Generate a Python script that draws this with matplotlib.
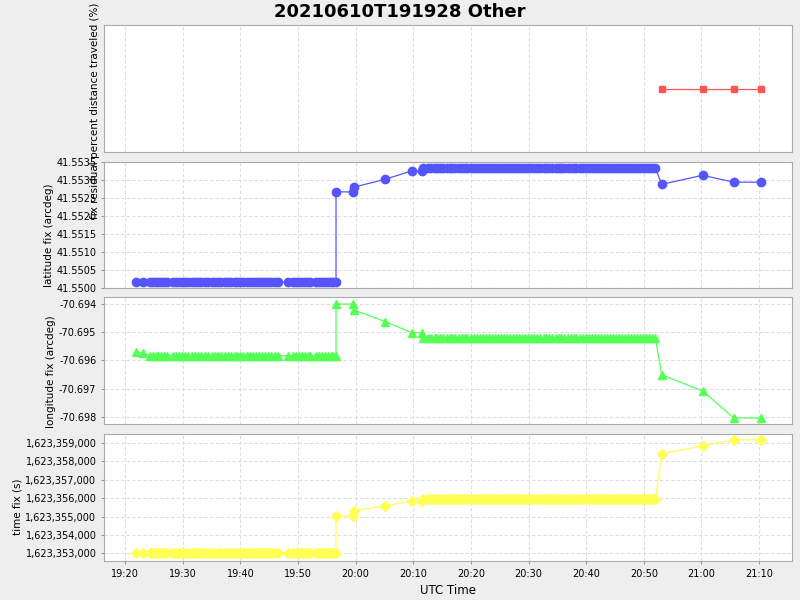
#!/usr/bin/env python3
import pandas as pd
import matplotlib
matplotlib.use("Agg")
import matplotlib.pyplot as plt
import matplotlib.dates as mdates
from matplotlib.ticker import FuncFormatter, MultipleLocator

START = pd.Timestamp("2021-06-10 19:20:00")

# minutes after 19:20 while the fix was stale
stale_min = [1.9, 3.1, 4.3, 4.8, 5.3, 5.8, 6.3, 6.8, 7.3, 8.3, 8.8, 9.4, 9.9, 10.4,
             11.0, 11.6, 12.1, 12.7, 13.2, 13.8, 14.4, 15.0, 15.6, 16.1, 16.7, 17.3,
             17.9, 18.4, 19.0, 19.5, 20.0, 20.5, 21.1, 21.7, 22.2, 22.8, 23.3, 23.8,
             24.3, 24.8, 25.4, 26.0, 26.6, 28.3, 29.2, 29.7, 30.2, 30.7, 31.2, 31.7,
             32.1, 33.2, 33.7, 34.2, 34.7, 35.2, 35.7, 36.1, 36.6]
stale_lat = 41.55016
stale_lon_first = [-70.69570, -70.69572]
stale_lon = -70.69583
stale_fix = 1623352990

# fix recovering
move_min = [36.6, 39.6, 39.7, 45.1, 49.7, 51.6, 51.7]
move_lat = [41.55267, 41.55267, 41.55280, 41.55302, 41.55325, 41.55325, 41.55333]
move_lon = [-70.69400, -70.69400, -70.69421, -70.69462, -70.69501, -70.69501, -70.69519]
move_fix = [1623355035, 1623355035, 1623355308, 1623355580, 1623355853, 1623355853, 1623355962]

# long stale period after recovery
dense_min = [52.6, 53.1, 53.7, 54.2, 54.7, 55.2, 55.8, 56.3, 56.8, 57.3, 57.9, 58.4,
             58.9, 59.4, 60.0, 60.5, 61.0, 61.5, 62.1, 62.6, 63.1, 63.6, 64.2, 64.7,
             65.2, 65.7, 66.3, 66.8, 67.3, 67.8, 68.4, 68.9, 69.4, 69.9, 70.5, 71.0,
             71.5, 72.0, 72.6, 73.1, 73.6, 74.1, 74.7, 75.2, 75.7, 76.2, 76.8, 77.3,
             77.8, 78.3, 78.9, 79.4, 79.9, 80.4, 81.0, 81.5, 82.0, 82.5, 83.1, 83.6,
             84.1, 84.6, 85.2, 85.7, 86.2, 86.7, 87.3, 87.8, 88.3, 88.8, 89.4, 89.9,
             90.4, 90.9, 91.5, 92.0]
dense_lat = 41.55333
dense_lon = -70.69519
dense_fix = 1623355962

# last few points
tail_min = [93.1, 100.2, 105.6, 110.3]
tail_lat = [41.55288, 41.55313, 41.55294, 41.55294]
tail_lon = [-70.69651, -70.69708, -70.69804, -70.69804]
tail_fix = [1623358420, 1623358855, 1623359180, 1623359180]
tail_pct = [100.0, 100.0, 100.0, 100.0]

BG = "#eeeeee"
EDGE = "#aaaaaa"
GRID = "#dddddd"


def to_time(mins):
    return START + pd.to_timedelta(pd.Series(mins, dtype=float), unit="min")


def main():
    n_stale = len(stale_min)
    n_dense = len(dense_min)
    all_min = stale_min + move_min + dense_min + tail_min
    lat = [stale_lat] * n_stale + move_lat + [dense_lat] * n_dense + tail_lat
    lon = stale_lon_first + [stale_lon] * (n_stale - 2) + move_lon + [dense_lon] * n_dense + tail_lon
    fix = [stale_fix] * n_stale + move_fix + [dense_fix] * n_dense + tail_fix
    t = to_time(all_min)
    t_tail = to_time(tail_min)

    plt.rcParams["font.family"] = "DejaVu Sans"
    fig = plt.figure(figsize=(8, 6), dpi=100, facecolor=BG)
    L, W = 0.13, 0.86
    rects = [(0.747, 0.211), (0.52, 0.21), (0.293, 0.212), (0.065, 0.212)]
    axes = [fig.add_axes([L, b, W, h]) for b, h in rects]
    ax_pct, ax_lat, ax_lon, ax_fix = axes

    ax_pct.plot(t_tail, tail_pct, color="#ff5555", marker="s", markersize=5, lw=0.9)
    ax_lat.plot(t, lat, color="#5555ff", marker="o", markersize=6, lw=0.9)
    ax_lon.plot(t, lon, color="#55ff55", marker="^", markersize=6, lw=0.9)
    ax_fix.plot(t, fix, color="#ffff55", marker="D", markersize=5, lw=0.9)

    x0 = START - pd.Timedelta(minutes=3.65)
    x1 = START + pd.Timedelta(minutes=115.7)
    for ax in axes:
        ax.set_facecolor("white")
        ax.set_xlim(x0, x1)
        for s in ax.spines.values():
            s.set_color(EDGE)
        ax.grid(True, color=GRID, linestyle=(0, (3, 2)), linewidth=0.8)
        ax.xaxis.set_major_locator(mdates.MinuteLocator(byminute=range(0, 60, 10)))
        ax.xaxis.set_major_formatter(mdates.DateFormatter("%H:%M"))
        ax.tick_params(direction="out", length=2, color="#999999", labelsize=7)
    for ax in axes[:3]:
        ax.tick_params(axis="x", labelbottom=False, length=0)

    ax_pct.set_ylim(99, 101)
    ax_pct.set_yticks([])
    ax_pct.set_ylabel("fix residual percent distance traveled (%)", fontsize=7.5)
    ax_pct.yaxis.set_label_coords(-0.006, 0.32)

    ax_lat.set_ylim(41.5500, 41.5535)
    ax_lat.yaxis.set_major_locator(MultipleLocator(0.0005))
    ax_lat.yaxis.set_major_formatter(FuncFormatter(lambda v, _: f"{v:.4f}"))
    ax_lat.set_ylabel("latitude fix (arcdeg)", fontsize=7.5)
    ax_lat.yaxis.set_label_coords(-0.073, 0.42)

    ax_lon.set_ylim(-70.69826, -70.69375)
    ax_lon.yaxis.set_major_locator(MultipleLocator(0.001))
    ax_lon.yaxis.set_major_formatter(FuncFormatter(lambda v, _: f"{v:.3f}"))
    ax_lon.set_ylabel("longitude fix (arcdeg)", fontsize=7.5)
    ax_lon.yaxis.set_label_coords(-0.07, 0.41)

    ax_fix.set_ylim(1623352580, 1623359507)
    ax_fix.yaxis.set_major_locator(MultipleLocator(1000))
    ax_fix.yaxis.set_major_formatter(FuncFormatter(lambda v, _: f"{v:,.0f}"))
    ax_fix.set_ylabel("time fix (s)", fontsize=7.5)
    ax_fix.yaxis.set_label_coords(-0.118, 0.43)
    ax_fix.set_xlabel("UTC Time", fontsize=8.5)

    fig.suptitle("20210610T191928 Other", fontsize=13, fontweight="bold", y=0.995)
    fig.savefig("out.png", dpi=100, facecolor=BG)
    plt.close(fig)


if __name__ == "__main__":
    main()
